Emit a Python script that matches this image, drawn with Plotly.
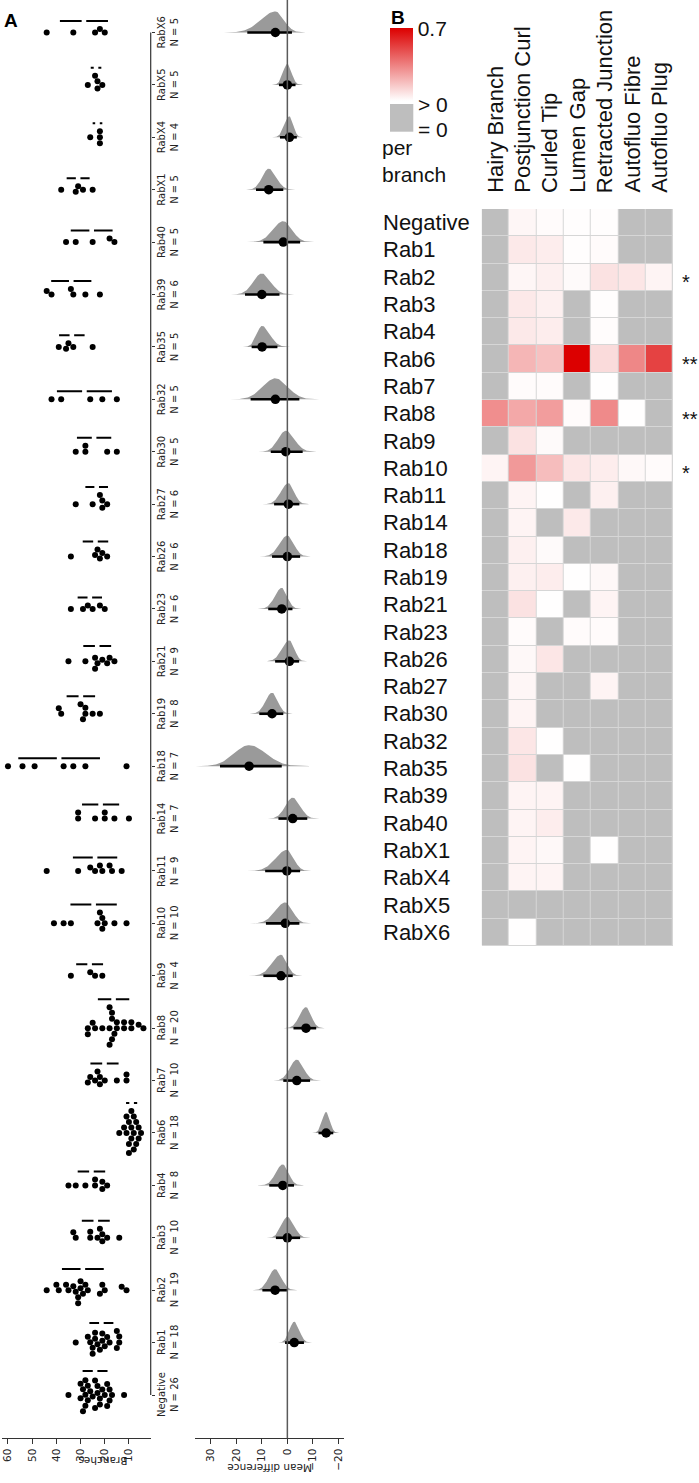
import numpy as np
import plotly.graph_objects as go

W, H = 699, 1483

# ---------------- DATA ----------------
groups = ["Negative", "Rab1", "Rab2", "Rab3", "Rab4", "Rab6", "Rab7", "Rab8", "Rab9", "Rab10",
          "Rab11", "Rab14", "Rab18", "Rab19", "Rab21", "Rab23", "Rab26", "Rab27", "Rab30",
          "Rab32", "Rab35", "Rab39", "Rab40", "RabX1", "RabX4", "RabX5", "RabX6"]

br_negative = [35, 30, 30, 29, 29, 28, 28, 28, 27, 27, 26, 25, 24, 24, 23, 23, 22, 22, 21, 20, 19, 19, 18, 18, 17, 12]
br_rab1 = [32, 27, 26, 25, 25, 24, 24, 23, 22, 21, 21, 20, 19, 18, 15, 15, 14, 14]
br_rab2 = [44, 40, 39, 36, 35, 33, 32, 31, 31, 30, 30, 29, 28, 27, 22, 21, 20, 13, 11]
br_rab3 = [33, 32, 26, 26, 23, 22, 21, 21, 19, 14]
br_rab4 = [35, 32, 28, 24, 24, 21, 21, 19]
br_rab6 = [14, 12, 11, 11, 10, 10, 10, 9, 9, 9, 8, 8, 8, 7, 7, 6, 6, 5]
br_rab7 = [27, 26, 24, 23, 22, 22, 20, 15, 11, 11]
br_rab8 = [27, 27, 25, 24, 21, 18, 18, 18, 17, 17, 17, 16, 15, 15, 12, 12, 9, 9, 6, 4]
br_rab9 = [34, 26, 24, 21]
br_rab10 = [41, 37, 34, 23, 22, 21, 21, 20, 16, 11]
br_rab11 = [44, 31, 26, 24, 22, 21, 18, 17, 13]
br_rab14 = [31, 31, 24, 20, 20, 16, 10]
br_rab18 = [60, 54, 49, 37, 33, 28, 11]
br_rab19 = [39, 38, 30, 29, 28, 28, 25, 22]
br_rab21 = [35, 28, 24, 24, 23, 21, 19, 18, 16]
br_rab23 = [34, 29, 27, 25, 22, 20]
br_rab26 = [34, 24, 23, 22, 21, 19]
br_rab27 = [32, 25, 22, 21, 21, 19]
br_rab30 = [32, 28, 28, 19, 15]
br_rab32 = [42, 38, 26, 21, 15]
br_rab35 = [39, 36, 35, 33, 25]
br_rab39 = [44, 42, 34, 33, 28, 22]
br_rab40 = [36, 32, 25, 18, 16]
br_rabx1 = [38, 32, 31, 29, 25]
br_rabx4 = [26, 22, 22, 22]
br_rabx5 = [27, 24, 23, 23, 21]
br_rabx6 = [44, 33, 24, 22, 20]

branches = [br_negative, br_rab1, br_rab2, br_rab3, br_rab4, br_rab6, br_rab7, br_rab8, br_rab9,
            br_rab10, br_rab11, br_rab14, br_rab18, br_rab19, br_rab21, br_rab23, br_rab26,
            br_rab27, br_rab30, br_rab32, br_rab35, br_rab39, br_rab40, br_rabx1, br_rabx4,
            br_rabx5, br_rabx6]

# mean difference vs Negative (Rab1 ... RabX6) and 95% CI bounds
md_mean = [-2.7, 4.8, 0.0, 1.8, -15.2, -3.7, -7.3, 2.5, 0.8, 0.2, -2.1, 15.0, 6.0, -0.8, 2.2,
           0.0, -0.4, 0.6, 4.7, 9.9, 10.0, 1.6, 7.3, -0.8, 0.0, 4.7]
md_ci_high = [0.9, 9.8, 4.5, 7.1, -12.2, 1.6, -2.4, 9.4, 8.4, 8.7, 3.5, 26.4, 11.0, 4.8, 7.5,
              6.0, 5.2, 6.5, 14.4, 14.0, 16.6, 9.4, 12.3, 2.9, 3.3, 15.7]
md_ci_low = [-6.5, 0.0, -5.0, -2.6, -18.0, -8.9, -11.3, -2.1, -4.7, -5.0, -7.8, 2.2, 1.6, -4.6,
             -2.0, -5.0, -4.7, -6.0, -4.7, 3.9, 3.1, -5.0, 1.6, -3.7, -3.2, -1.8]

branch_ticks = [60, 50, 40, 30, 20, 10]
md_ticks = [30, 20, 10, 0, -10, -20]

# heatmap (per branch frequency), rows in the order of `groups`
heat_columns = ["Hairy Branch", "Postjunction Curl", "Curled Tip", "Lumen Gap",
                "Retracted Junction", "Autofluo Fibre", "Autofluo Plug"]
hairy_branch = [0, 0, 0, 0, 0, 0, 0, 0.31, 0, 0.03, 0, 0, 0, 0, 0, 0, 0, 0, 0, 0, 0, 0, 0, 0, 0, 0, 0]
postjunction_curl = [0.025, 0.06, 0.025, 0.06, 0.06, 0.2, 0.01, 0.24, 0.08, 0.28, 0.03, 0.03, 0.04,
                     0.04, 0.08, 0.01, 0.02, 0.025, 0.03, 0.07, 0.08, 0.03, 0.03, 0.03, 0.03, 0, 0.003]
curled_tip = [0.01, 0.05, 0.04, 0.04, 0.05, 0.17, 0.01, 0.27, 0.015, 0.18, 0.003, 0, 0.015, 0.05,
              0.003, 0, 0.07, 0, 0, 0.002, 0, 0.03, 0.05, 0.02, 0.03, 0, 0]
lumen_gap = [0.005, 0.005, 0.015, 0, 0, 0.7, 0, 0.01, 0, 0.07, 0, 0.06, 0, 0.003, 0, 0.01, 0, 0, 0,
             0, 0.003, 0, 0, 0, 0, 0, 0]
retracted_junction = [0.005, 0.01, 0.08, 0.005, 0.008, 0.1, 0.002, 0.32, 0, 0.05, 0.04, 0, 0, 0.02,
                      0.03, 0.01, 0, 0.03, 0, 0, 0, 0, 0, 0.003, 0, 0, 0]
autofluo_fibre = [0, 0, 0.07, 0, 0, 0.33, 0, 0.003, 0, 0.02, 0, 0, 0, 0, 0, 0, 0, 0, 0, 0, 0, 0, 0, 0, 0, 0, 0]
autofluo_plug = [0, 0, 0.03, 0, 0, 0.52, 0, 0, 0, 0.01, 0, 0, 0, 0, 0, 0, 0, 0, 0, 0, 0, 0, 0, 0, 0, 0, 0]
significance = ["", "", "*", "", "", "**", "", "**", "", "*", "", "", "", "", "", "", "", "", "",
                "", "", "", "", "", "", "", ""]

# ---------------- LAYOUT GEOMETRY (pixels) ----------------
AX_Y = 1438.3                  # bottom axis line of panel A
BR_PX = (1.7, 150.7)           # branches axis extent
BR_RANGE = [62.6, 1.0]
MD_PX = (195.0, 344.0)         # mean difference axis extent
MD_RANGE = [36.2, -22.2]
CAT_RANGE = [-0.826, 26.62]
HM_PX_X = (481.7, 673.0)
HM_PX_Y = (209.0, 946.0)

FONT_A = "DejaVu Sans"
FONT_B = "Liberation Sans"

px_per_unit = (BR_PX[1] - BR_PX[0]) / (BR_RANGE[0] - BR_RANGE[1])
px_per_cat = AX_Y / (CAT_RANGE[1] - CAT_RANGE[0])


def beeswarm(vals, dpx):
    vals = np.asarray(vals, float)
    pts = []
    offs = np.zeros(len(vals))
    for idx in np.argsort(vals, kind="stable"):
        x = vals[idx] * px_per_unit
        cands = [0.0]
        for xp, yp in pts:
            dx = abs(x - xp)
            if dx < dpx:
                dy = np.sqrt(dpx ** 2 - dx ** 2)
                cands += [yp + dy, yp - dy]
        cands.sort(key=lambda c: (abs(c), -c))
        chosen = cands[-1]
        for c in cands:
            if all((x - xp) ** 2 + (c - yp) ** 2 >= dpx ** 2 - 1e-6 for xp, yp in pts):
                chosen = c
                break
        pts.append((x, chosen))
        offs[idx] = chosen
    return offs


fig = go.Figure()

# ---------- Panel A: swarm ----------
sx, sy = [], []
lx, ly = [], []
gap = 2.3 / px_per_unit
for i, vals in enumerate(branches):
    offs = beeswarm(vals, 6.0)
    sx += list(vals)
    sy += list(i + offs / px_per_cat)
    m = float(np.mean(vals))
    s = float(np.std(vals, ddof=1))
    yl = i + (np.max(np.abs(offs)) + 3 + 5) / px_per_cat
    lx += [m - s, m - gap, None, m + gap, m + s, None]
    ly += [yl, yl, None, yl, yl, None]

fig.add_trace(go.Scatter(x=lx, y=ly, mode="lines", line=dict(color="black", width=2),
                         xaxis="x", yaxis="y", hoverinfo="skip"))
fig.add_trace(go.Scatter(x=sx, y=sy, mode="markers", marker=dict(color="black", size=6, line=dict(width=0)),
                         xaxis="x", yaxis="y", hoverinfo="skip"))

# ---------- Panel A: mean differences ----------
peak = 21.0 / px_per_cat
for k, (m, lo, hi) in enumerate(zip(md_mean, md_ci_low, md_ci_high)):
    i = k + 1
    s_hi = max((hi - m) / 1.96, 0.3)
    s_lo = max((m - lo) / 1.96, 0.3)
    xs = np.concatenate([np.linspace(m - 3.6 * s_lo, m, 60), np.linspace(m, m + 3.6 * s_hi, 60)[1:]])
    zz = np.where(xs >= m, (xs - m) / s_hi, (xs - m) / s_lo)
    ys = i + peak * np.exp(-0.5 * zz ** 2)
    px_ = list(xs) + [xs[-1], xs[0]]
    py_ = list(ys) + [i, i]
    fig.add_trace(go.Scatter(x=px_, y=py_, mode="lines", fill="toself", fillcolor="#9a9a9a",
                             line=dict(width=0, color="#9a9a9a"), xaxis="x2", yaxis="y2",
                             hoverinfo="skip"))

cx, cy = [], []
for k, (lo, hi) in enumerate(zip(md_ci_low, md_ci_high)):
    cx += [lo, hi, None]
    cy += [k + 1, k + 1, None]
fig.add_trace(go.Scatter(x=cx, y=cy, mode="lines", line=dict(color="black", width=2.6),
                         xaxis="x2", yaxis="y2", hoverinfo="skip"))
fig.add_trace(go.Scatter(x=md_mean, y=list(range(1, len(groups))), mode="markers",
                         marker=dict(color="black", size=9.5), xaxis="x2", yaxis="y2",
                         hoverinfo="skip"))

# ---------- Panel B: heatmap ----------
cols = [hairy_branch, postjunction_curl, curled_tip, lumen_gap, retracted_junction,
        autofluo_fibre, autofluo_plug]
z = np.array(cols, float).T  # rows x cols
z_zero = np.where(z == 0, 1.0, np.nan)
z_pos = np.where(z > 0, z, np.nan)
xi = list(range(len(heat_columns)))
yi = list(range(len(groups)))

fig.add_trace(go.Heatmap(z=z_zero.tolist(), x=xi, y=yi, colorscale=[[0, "#bebebe"], [1, "#bebebe"]],
                         showscale=False, xgap=1, ygap=1, xaxis="x3", yaxis="y3", hoverinfo="skip"))
fig.add_trace(go.Heatmap(
    z=z_pos.tolist(), x=xi, y=yi, colorscale=[[0, "#ffffff"], [1, "#dc0000"]], zmin=0, zmax=0.7,
    xgap=1, ygap=1, xaxis="x3", yaxis="y3", hoverinfo="skip",
    colorbar=dict(x=390 / W, xanchor="left", y=1 - 28.3 / H, yanchor="top",
                  len=73.4, lenmode="pixels", thickness=23.3, thicknessmode="pixels",
                  outlinewidth=0, tickvals=[0.7], ticktext=["0.7"], ticks="",
                  tickfont=dict(family=FONT_B, size=21, color="#111"), xpad=0, ypad=0)))

shapes = [
    # category spine of the swarm panel
    dict(type="line", xref="x domain", x0=1, x1=1, yref="y", y0=0, y1=len(groups) - 1,
         line=dict(color="#333", width=1.2)),
    # zero line of the mean difference panel
    dict(type="line", xref="x2", x0=0, x1=0, yref="paper", y0=1 - AX_Y / H, y1=1,
         line=dict(color="#5a5a5a", width=1.5)),
    # grid background of heatmap
    dict(type="rect", xref="x3", yref="y3", x0=-0.5, x1=6.5, y0=-0.5, y1=len(groups) - 0.5,
         fillcolor="#d6d6d6", line=dict(width=0), layer="below"),
    # '= 0' legend block
    dict(type="rect", xref="paper", yref="paper", x0=390 / W, x1=413.3 / W,
         y0=1 - 131.7 / H, y1=1 - 104 / H, fillcolor="#bebebe", line=dict(width=0)),
]

ann = []
# category labels
for i, (g, vals) in enumerate(zip(groups, branches)):
    ann.append(dict(text=f"{g}<br>N = {len(vals)}", xref="paper", x=168 / W, yref="y", y=i,
                    textangle=-90, showarrow=False, xanchor="center", yanchor="middle",
                    font=dict(family=FONT_A, size=10, color="#222")))
# axis titles (upside-down)
ann.append(dict(text="Branches", xref="paper", yref="paper", x=76.7 / W, y=1 - 1469 / H,
                textangle=180, showarrow=False, font=dict(family=FONT_A, size=10.5, color="#222")))
ann.append(dict(text="Mean difference", xref="paper", yref="paper", x=270 / W, y=1 - 1476.5 / H,
                textangle=180, showarrow=False, font=dict(family=FONT_A, size=10.5, color="#222")))
# panel letters
ann.append(dict(text="<b>A</b>", xref="paper", yref="paper", x=2 / W, y=1 - 8 / H, xanchor="left",
                yanchor="top", showarrow=False, font=dict(family=FONT_B, size=19, color="black")))
ann.append(dict(text="<b>B</b>", xref="paper", yref="paper", x=389 / W, y=1 - 5 / H, xanchor="left",
                yanchor="top", showarrow=False, font=dict(family=FONT_B, size=19, color="black")))
# heatmap row labels
for i, g in enumerate(groups):
    ann.append(dict(text=g, xref="paper", x=380.5 / W, yref="y3", y=i, xanchor="left",
                    yanchor="middle", showarrow=False, font=dict(family=FONT_B, size=22, color="#111")))
    if significance[i]:
        ann.append(dict(text=significance[i], xref="paper", x=680 / W, yref="y3", y=i,
                        xanchor="left", yanchor="middle", yshift=-5, showarrow=False,
                        font=dict(family=FONT_B, size=20, color="#111")))
# heatmap column labels
for j, c in enumerate(heat_columns):
    ann.append(dict(text=c, xref="x3", x=j, yref="paper", y=1 - 195 / H, textangle=-90,
                    xanchor="center", yanchor="bottom", showarrow=False,
                    font=dict(family=FONT_B, size=22, color="#111")))
# colour legend texts
ann.append(dict(text="> 0", xref="paper", yref="paper", x=415.5 / W, y=1 - 104.5 / H,
                xanchor="left", yanchor="middle", showarrow=False,
                font=dict(family=FONT_B, size=21, color="#111")))
ann.append(dict(text="= 0", xref="paper", yref="paper", x=415.5 / W, y=1 - 129.5 / H,
                xanchor="left", yanchor="middle", showarrow=False,
                font=dict(family=FONT_B, size=21, color="#111")))
ann.append(dict(text="per<br>branch", xref="paper", yref="paper", x=380 / W, y=1 - 134 / H,
                xanchor="left", yanchor="top", align="left", showarrow=False,
                font=dict(family=FONT_B, size=21, color="#111")))

axis_common = dict(showgrid=False, zeroline=False, ticks="outside", ticklen=5, tickwidth=1,
                   tickcolor="#333", showline=True, linecolor="#333", linewidth=1.2,
                   tickangle=-90, tickfont=dict(family=FONT_A, size=10.5, color="#222"))
y_dom = [1 - AX_Y / H, 1]

fig.update_layout(
    width=W, height=H, margin=dict(l=0, r=0, t=0, b=0),
    paper_bgcolor="white", plot_bgcolor="white", showlegend=False,
    xaxis=dict(domain=[BR_PX[0] / W, BR_PX[1] / W], range=BR_RANGE, tickvals=branch_ticks,
               anchor="y", **axis_common),
    yaxis=dict(domain=y_dom, range=CAT_RANGE, side="right", anchor="x", ticks="outside", ticklen=3,
               tickcolor="#333", tickvals=list(range(len(groups))), showticklabels=False,
               showgrid=False, zeroline=False, showline=False),
    xaxis2=dict(domain=[MD_PX[0] / W, MD_PX[1] / W], range=MD_RANGE, tickvals=md_ticks,
                anchor="y2", **axis_common),
    yaxis2=dict(domain=y_dom, range=CAT_RANGE, anchor="x2", visible=False),
    xaxis3=dict(domain=[HM_PX_X[0] / W, HM_PX_X[1] / W], range=[-0.5, 6.5], anchor="y3",
                visible=False),
    yaxis3=dict(domain=[1 - HM_PX_Y[1] / H, 1 - HM_PX_Y[0] / H], range=[len(groups) - 0.5, -0.5],
                anchor="x3", visible=False),
    shapes=shapes, annotations=ann,
)

fig.write_html("out.html", config={"displayModeBar": False},
               post_script="document.body.style.margin='0px';document.body.style.overflow='hidden';")
